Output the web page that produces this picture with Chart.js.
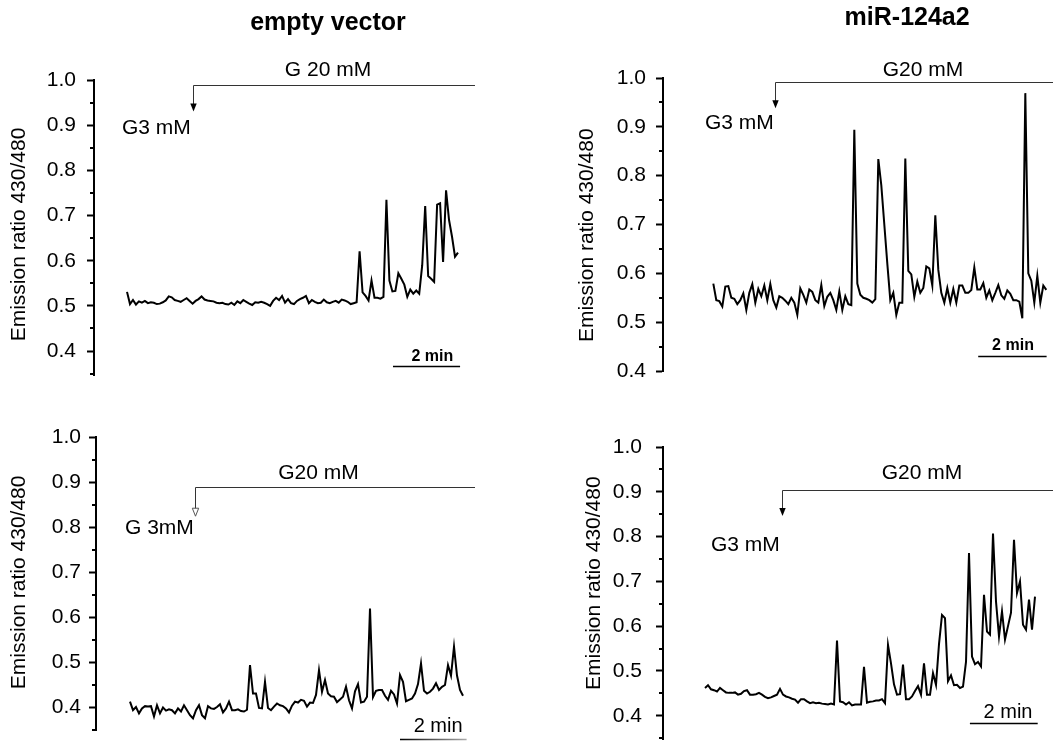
<!DOCTYPE html>
<html>
<head>
<meta charset="utf-8">
<script src="https://cdn.jsdelivr.net/npm/chart.js@4.4.1/dist/chart.umd.min.js"></script>
<style>
  html, body { margin: 0; padding: 0; background: #fff; width: 1053px; height: 741px; overflow: hidden; }
  canvas { position: absolute; }
</style>
</head>
<body>
<canvas id="c1"></canvas>
<canvas id="c2"></canvas>
<canvas id="c3"></canvas>
<canvas id="c4"></canvas>
<script>
// ---------- data (emission ratio 430/480, one value per frame) ----------
const emptyVectorTop = [
  0.531,0.504,0.513,0.503,0.510,0.507,0.511,0.506,0.508,0.507,
  0.504,0.505,0.508,0.512,0.521,0.519,0.513,0.511,0.509,0.513,
  0.517,0.511,0.505,0.511,0.515,0.521,0.514,0.512,0.511,0.510,
  0.507,0.506,0.507,0.504,0.503,0.507,0.502,0.510,0.506,0.513,
  0.509,0.505,0.502,0.508,0.507,0.509,0.507,0.504,0.500,0.511,
  0.518,0.513,0.522,0.507,0.515,0.506,0.504,0.511,0.515,0.518,
  0.522,0.506,0.513,0.509,0.506,0.507,0.514,0.508,0.506,0.509,
  0.511,0.507,0.514,0.512,0.509,0.504,0.506,0.508,0.621,0.530,
  0.522,0.512,0.556,0.518,0.518,0.516,0.520,0.735,0.556,0.532,
  0.533,0.572,0.560,0.547,0.520,0.536,0.527,0.534,0.527,0.590,
  0.721,0.566,0.560,0.553,0.724,0.727,0.597,0.756,0.690,0.653,
  0.609,0.618
];
const mir124a2Top = [
  0.579,0.545,0.543,0.532,0.573,0.574,0.550,0.548,0.537,0.545,
  0.559,0.525,0.560,0.578,0.540,0.568,0.553,0.575,0.545,0.578,
  0.545,0.530,0.553,0.550,0.544,0.537,0.550,0.540,0.515,0.569,
  0.556,0.540,0.567,0.562,0.545,0.540,0.576,0.533,0.552,0.560,
  0.545,0.525,0.563,0.525,0.553,0.537,0.535,0.894,0.579,0.556,
  0.550,0.548,0.545,0.540,0.547,0.834,0.780,0.700,0.620,0.545,
  0.560,0.515,0.540,0.540,0.835,0.605,0.598,0.552,0.583,0.560,
  0.570,0.614,0.610,0.575,0.719,0.607,0.560,0.540,0.570,0.540,
  0.568,0.540,0.575,0.575,0.560,0.560,0.566,0.612,0.567,0.567,
  0.580,0.550,0.565,0.545,0.560,0.576,0.555,0.548,0.565,0.558,
  0.545,0.545,0.542,0.508,0.969,0.600,0.585,0.540,0.595,0.540,
  0.575,0.566
];
const emptyVectorBottom = [
  0.412,0.393,0.400,0.386,0.397,0.402,0.401,0.402,0.379,0.404,
  0.386,0.399,0.392,0.395,0.393,0.386,0.397,0.390,0.404,0.393,
  0.382,0.375,0.393,0.404,0.382,0.375,0.402,0.397,0.396,0.400,
  0.406,0.388,0.397,0.412,0.393,0.393,0.395,0.391,0.390,0.394,
  0.493,0.430,0.430,0.398,0.397,0.456,0.398,0.393,0.401,0.408,
  0.404,0.402,0.397,0.388,0.403,0.412,0.410,0.416,0.414,0.401,
  0.410,0.409,0.427,0.482,0.434,0.460,0.430,0.424,0.423,0.411,
  0.417,0.423,0.445,0.415,0.397,0.435,0.451,0.410,0.412,0.423,
  0.619,0.422,0.436,0.438,0.438,0.425,0.416,0.436,0.428,0.408,
  0.471,0.456,0.413,0.416,0.419,0.430,0.451,0.497,0.436,0.430,
  0.434,0.441,0.453,0.438,0.445,0.449,0.493,0.470,0.534,0.470,
  0.438,0.425
];
const mir124a2Bottom = [
  0.462,0.468,0.459,0.457,0.454,0.462,0.457,0.452,0.451,0.451,
  0.452,0.447,0.449,0.455,0.457,0.447,0.447,0.448,0.451,0.447,
  0.442,0.439,0.441,0.444,0.447,0.460,0.447,0.443,0.441,0.438,
  0.436,0.429,0.437,0.437,0.432,0.428,0.430,0.428,0.429,0.427,
  0.426,0.425,0.427,0.425,0.568,0.432,0.430,0.425,0.430,0.423,
  0.425,0.425,0.425,0.509,0.429,0.431,0.432,0.434,0.434,0.437,
  0.428,0.558,0.517,0.470,0.447,0.448,0.514,0.437,0.437,0.443,
  0.455,0.466,0.447,0.517,0.447,0.447,0.495,0.469,0.560,0.625,
  0.618,0.477,0.490,0.468,0.469,0.462,0.465,0.520,0.763,0.532,
  0.515,0.520,0.510,0.670,0.588,0.581,0.807,0.655,0.577,0.633,
  0.570,0.600,0.630,0.793,0.674,0.700,0.603,0.592,0.659,0.592,
  0.666
];
const yTickValues = [0.4, 0.5, 0.6, 0.7, 0.8, 0.9, 1.0];
const yMinorTickValues = [0.35, 0.45, 0.55, 0.65, 0.75, 0.85, 0.95];
const panelTitles = ['empty vector', 'miR-124a2'];
const yAxisTitle = 'Emission ratio 430/480';

// ---------- layout / annotation config (data units: x = frame, y = ratio) ----------
const FONT = "'Liberation Sans', Arial, Helvetica, sans-serif";
const panels = [
  { id: 'c1', values: emptyVectorTop, left: 0, top: 0, w: 530, h: 390, padTop: 80, padBottom: 15,
    yMin: 0.347, axisW: 94, xMin: -11.07, xMax: 135.15, tickPad: 11,
    title: { text: panelTitles[0], x: 67.4, y: 1.111 },
    yTitle: { x: -36.2, y: 0.658 },
    stim: { x: 22.1, y: 0.989, tipY: 0.930, xEnd: 116.7, label: 'G 20 mM', lx: 67.4, ly: 1.022, open: false },
    basal: { label: 'G3 mM', x: -1.68, y: 0.893 },
    bar: { x0: 89.2, x1: 111.7, y: 0.367, label: '2 min', lx: 102.4, ly: 0.387, bold: true, fade: false } },
  { id: 'c2', values: mir124a2Top, left: 569, top: 0, w: 484, h: 390, padTop: 78, padBottom: 19,
    yMin: 0.4, axisW: 94, xMin: -16.77, xMax: 113.23, tickPad: 10,
    title: { text: panelTitles[1], x: 64.6, y: 1.1085 },
    yTitle: { x: -42.1, y: 0.678 },
    stim: { x: 20.6, y: 0.992, tipY: 0.938, xEnd: 125, label: 'G20 mM', lx: 69.9, ly: 1.016, open: false },
    basal: { label: 'G3 mM', x: -2.77, y: 0.908 },
    bar: { x0: 88.3, x1: 111.1, y: 0.431, label: '2 min', lx: 99.9, ly: 0.453, bold: true, fade: false } },
  { id: 'c3', values: emptyVectorBottom, left: 0, top: 380, w: 530, h: 361, padTop: 57, padBottom: 11,
    yMin: 0.349, axisW: 96, xMin: -11.33, xMax: 133.33, tickPad: 8,
    title: null,
    yTitle: { x: -36.8, y: 0.677 },
    stim: { x: 21.67, y: 0.889, tipY: 0.824, xEnd: 115, label: 'G20 mM', lx: 62.8, ly: 0.920, open: true },
    basal: { label: 'G 3mM', x: -1.67, y: 0.798 },
    bar: { x0: 90, x1: 112.2, y: 0.328, label: '2 min', lx: 102.7, ly: 0.356, bold: false, fade: true } },
  { id: 'c4', values: mir124a2Bottom, left: 575, top: 380, w: 478, h: 361, padTop: 67, padBottom: 2,
    yMin: 0.348, axisW: 88, xMin: -14, xMax: 116, tickPad: 14,
    title: null,
    yTitle: { x: -37.0, y: 0.696 },
    stim: { x: 25.6, y: 0.904, tipY: 0.846, xEnd: 125, label: 'G20 mM', lx: 72.3, ly: 0.942, open: false },
    basal: { label: 'G3 mM', x: 2.0, y: 0.781 },
    bar: { x0: 88.3, x1: 110.9, y: 0.384, label: '2 min', lx: 101, ly: 0.408, bold: false, fade: false } }
];

function decorPlugin(p) {
  return {
    id: 'decor',
    afterDraw(chart) {
      const ctx = chart.ctx;
      const xs = chart.scales.x, ys = chart.scales.y;
      const X = v => xs.getPixelForValue(v);
      const Y = v => ys.getPixelForValue(v);
      const ax = chart.chartArea.left;
      ctx.save();
      // minor ticks
      ctx.strokeStyle = '#000';
      ctx.lineWidth = 2;
      yMinorTickValues.forEach(v => {
        if (v < ys.min - 1e-9 || v > ys.max + 1e-9) return;
        const y = Math.round(Y(v));
        ctx.beginPath(); ctx.moveTo(ax - 4, y); ctx.lineTo(ax, y); ctx.stroke();
      });
      ctx.fillStyle = '#000';
      // y axis title (rotated)
      ctx.save();
      ctx.translate(X(p.yTitle.x), Y(p.yTitle.y));
      ctx.rotate(-Math.PI / 2);
      ctx.font = '21px ' + FONT;
      ctx.textAlign = 'center'; ctx.textBaseline = 'middle';
      ctx.fillText(yAxisTitle, 0, 0);
      ctx.restore();
      // panel title
      if (p.title) {
        ctx.font = 'bold 25px ' + FONT;
        ctx.textAlign = 'center'; ctx.textBaseline = 'alphabetic';
        ctx.fillText(p.title.text, X(p.title.x), Y(p.title.y));
      }
      // stimulus line + arrow
      const s = p.stim;
      const sx = Math.round(X(s.x)) + 0.5, sy = Math.round(Y(s.y)) + 0.5, ty = Y(s.tipY);
      ctx.strokeStyle = '#333'; ctx.lineWidth = 1;
      ctx.beginPath();
      ctx.moveTo(Math.min(X(s.xEnd), chart.width), sy);
      ctx.lineTo(sx, sy);
      ctx.lineTo(sx, ty - 7);
      ctx.stroke();
      ctx.beginPath();
      ctx.moveTo(sx - 3.2, ty - 8); ctx.lineTo(sx + 3.2, ty - 8); ctx.lineTo(sx, ty); ctx.closePath();
      if (s.open) { ctx.fillStyle = '#fff'; ctx.fill(); ctx.strokeStyle = '#555'; ctx.stroke(); }
      else { ctx.fillStyle = '#000'; ctx.fill(); }
      ctx.fillStyle = '#000';
      ctx.font = '21px ' + FONT;
      ctx.textBaseline = 'middle';
      ctx.textAlign = 'center';
      ctx.fillText(s.label, X(s.lx), Y(s.ly));
      ctx.textAlign = 'left';
      ctx.fillText(p.basal.label, X(p.basal.x), Y(p.basal.y));
      // scale bar
      const b = p.bar;
      const bx0 = X(b.x0), bx1 = X(b.x1), by = Math.round(Y(b.y)) + 0.5;
      if (b.fade) {
        const g = ctx.createLinearGradient(bx0, 0, bx1, 0);
        g.addColorStop(0, '#000'); g.addColorStop(1, '#aaa');
        ctx.strokeStyle = g;
      } else ctx.strokeStyle = '#000';
      ctx.lineWidth = 1.5;
      ctx.beginPath(); ctx.moveTo(bx0, by); ctx.lineTo(bx1, by); ctx.stroke();
      ctx.font = (b.bold ? 'bold 16px ' : '20px ') + FONT;
      ctx.textAlign = 'center';
      ctx.fillText(b.label, X(b.lx), Y(b.ly));
      ctx.restore();
    }
  };
}

panels.forEach(p => {
  const cv = document.getElementById(p.id);
  cv.width = p.w; cv.height = p.h;
  cv.style.left = p.left + 'px'; cv.style.top = p.top + 'px';
  cv.style.width = p.w + 'px'; cv.style.height = p.h + 'px';
  new Chart(cv, {
    type: 'line',
    data: {
      datasets: [{
        data: p.values.map((v, i) => ({ x: i, y: v })),
        borderColor: '#000', borderWidth: 2, pointRadius: 0, tension: 0, fill: false
      }]
    },
    options: {
      responsive: false, animation: false, devicePixelRatio: 1,
      layout: { padding: { top: p.padTop, bottom: p.padBottom, left: 0, right: 0 } },
      plugins: { legend: { display: false }, tooltip: { enabled: false }, title: { display: false } },
      scales: {
        x: { type: 'linear', display: false, min: p.xMin, max: p.xMax },
        y: {
          type: 'linear', min: p.yMin, max: 1.0,
          afterBuildTicks: sc => { sc.ticks = yTickValues.filter(v => v >= sc.min - 1e-9 && v <= sc.max + 1e-9).map(v => ({ value: v })); },
          afterFit: sc => { sc.width = p.axisW; sc.paddingTop = 0; sc.paddingBottom = 0; },
          ticks: { callback: v => Number(v).toFixed(1), color: '#000', padding: p.tickPad, font: { family: FONT, size: 21 } },
          grid: { drawOnChartArea: false, drawTicks: true, tickLength: 7, tickWidth: 2, tickColor: '#000' },
          border: { display: true, color: '#000', width: 2 },
          title: { display: false }
        }
      }
    },
    plugins: [decorPlugin(p)]
  });
});
</script>
</body>
</html>
